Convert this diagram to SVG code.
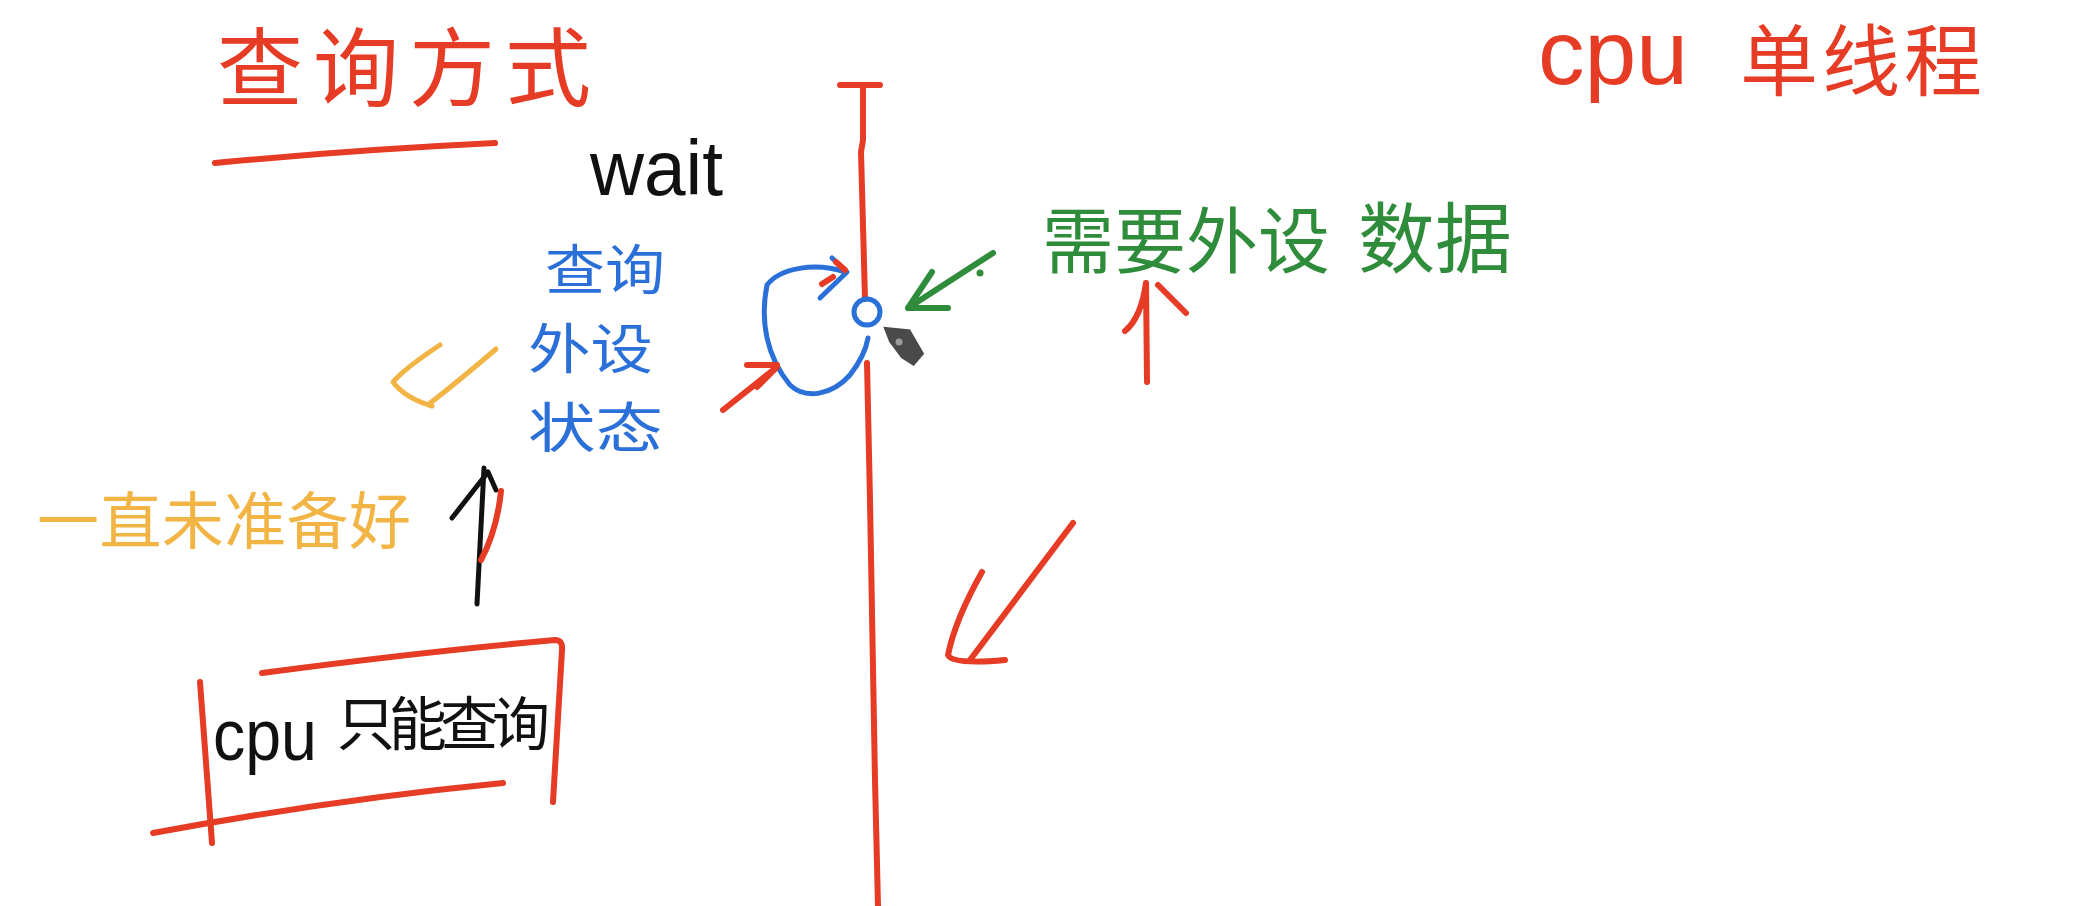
<svg xmlns="http://www.w3.org/2000/svg" width="2096" height="906" viewBox="0 0 2096 906">
<style>
.s{fill:none;stroke-linecap:round;stroke-linejoin:round}
.red{stroke:#e63b24;stroke-width:6}
.blue{stroke:#2b6fd8;stroke-width:5}
.green{stroke:#2e8c3b;stroke-width:6}
.orange{stroke:#f2b545;stroke-width:5}
.black{stroke:#111;stroke-width:5}
.cjk{font-family:"Noto Sans CJK SC","Noto Sans",sans-serif;font-weight:400}
.lat{font-family:"Liberation Sans",Arial,sans-serif}
</style>
<rect width="2096" height="906" fill="#ffffff"/>

<g id="title">
<text class="cjk" x="217" y="100" font-size="86" letter-spacing="10" fill="#e63b24">查询方式</text>
<path class="s red" d="M215,163 Q350,150 495,143"/>
</g>

<g id="cpu-single-thread">
<text class="lat" x="1538" y="84" font-size="90" fill="#e63b24" textLength="150" lengthAdjust="spacingAndGlyphs">cpu</text>
<text class="cjk" x="1740" y="90" font-size="78" letter-spacing="4" fill="#e63b24">单线程</text>
</g>

<g id="wait">
<text class="lat" x="590" y="195" font-size="78" fill="#111" textLength="133" lengthAdjust="spacingAndGlyphs">wait</text>
</g>

<g id="query-device-status">
<text class="cjk" x="545" y="290" font-size="54" fill="#2b6fd8" textLength="120" lengthAdjust="spacingAndGlyphs">查询</text>
<text class="cjk" x="528" y="369" font-size="54" fill="#2b6fd8" textLength="125" lengthAdjust="spacingAndGlyphs">外设</text>
<text class="cjk" x="528" y="448" font-size="54" fill="#2b6fd8" textLength="135" lengthAdjust="spacingAndGlyphs">状态</text>
</g>

<g id="need-device-data">
<text class="cjk" x="1042" y="267" font-size="72" fill="#2e8c3b">需要外设</text>
<text class="cjk" x="1358" y="267" font-size="77" fill="#2e8c3b">数据</text>
</g>

<g id="never-ready">
<text class="cjk" x="37" y="544" font-size="62" fill="#f2b545" textLength="374">一直未准备好</text>
</g>

<g id="cpu-only-query">
<text class="lat" x="213" y="760" font-size="72" fill="#111" textLength="104" lengthAdjust="spacingAndGlyphs">cpu</text>
<text class="cjk" x="337" y="745" font-size="58" fill="#111" textLength="213">只能查询</text>
<path class="s red" d="M262,673 Q420,652 555,640 Q563,640 562,650 L553,802"/>
<path class="s red" d="M200,682 L212,843"/>
<path class="s red" d="M153,833 Q330,800 503,783"/>
</g>

<g id="timeline">
<path class="s red" d="M840,85 L880,85"/>
<path class="s red" d="M863,88 L863,140 L861,152 L865,299"/>
<path class="s red" d="M867,363 L870,500 L875,780 L878,906"/>
<circle cx="867" cy="312" r="13" fill="none" stroke="#2b6fd8" stroke-width="5"/>
</g>

<g id="connectors">
<path class="s blue" d="M845,272 C815,262 780,268 767,285 C760,320 766,356 790,385 C806,400 832,395 850,375 C860,362 866,350 868,338"/>
<path class="s blue" d="M832,258 L847,272 L820,298"/>
<path class="s red" stroke-width="4" d="M836,262 L845,270 M822,284 L833,277"/>
<path class="s red" d="M723,410 L777,367 M747,365 L777,365 M757,387 L777,367"/>
<path class="s green" d="M993,253 L908,308 M932,272 L908,308 L948,308"/>
<circle cx="980" cy="273" r="3.5" fill="#2e8c3b"/>
<path class="s red" d="M1147,382 L1146,283 M1125,331 Q1141,318 1146,283 M1158,285 L1186,313"/>
<path class="s orange" d="M496,349 Q460,380 429,404 M440,345 Q405,368 393,382 Q405,398 432,406"/>
<path class="s black" d="M477,604 L484,468 M452,518 L488,472 L496,490"/>
<path class="s red" stroke-width="3" d="M501,491 Q497,530 481,560"/>
<path class="s red" d="M1073,523 L970,660 M982,572 Q955,620 948,655 Q952,665 1005,660"/>
</g>

<g id="pen-cursor">
<path d="M881,325 L911,328 L926,354 L914,368 L900,359 L888,343 Z" fill="#4a4a4a" stroke="#ffffff" stroke-width="3" stroke-linejoin="round"/>
<circle cx="899" cy="342" r="3.5" fill="#9a9a9a"/>
</g>
</svg>
